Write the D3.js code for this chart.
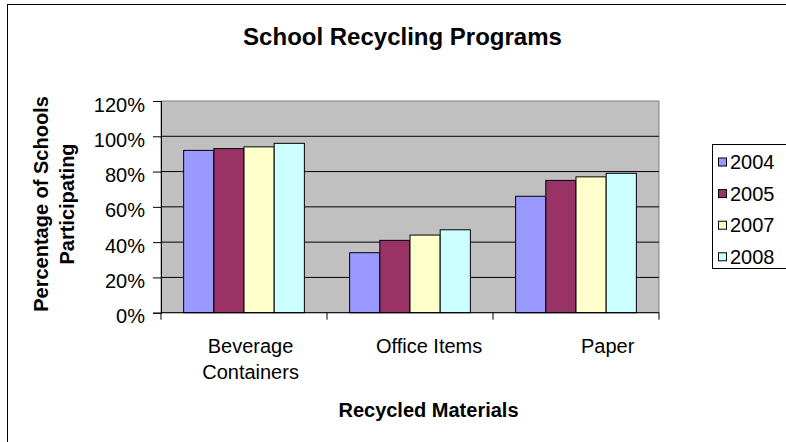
<!DOCTYPE html>
<html>
<head>
<meta charset="utf-8">
<script src="https://cdn.jsdelivr.net/npm/d3@7.9.0/dist/d3.min.js"></script>
<style>
  body { margin: 0; background: #fff; }
  svg { display: block; font-family: "Liberation Sans", Arial, sans-serif; }
</style>
</head>
<body>
<svg id="chart" width="786" height="442"></svg>
<script>
// data
const categories = ['Beverage Containers', 'Office Items', 'Paper'];
const years = ['2004', '2005', '2007', '2008'];
const v2004 = [0.92, 0.34, 0.66];
const v2005 = [0.93, 0.41, 0.75];
const v2007 = [0.94, 0.44, 0.77];
const v2008 = [0.96, 0.47, 0.79];
const yTicks = [0, 0.2, 0.4, 0.6, 0.8, 1.0, 1.2];

const seriesValues = [v2004, v2005, v2007, v2008];
const colors = ['#9999FF', '#993366', '#FFFFCC', '#CCFFFF'];

const svg = d3.select('#chart');
const plot = { left: 161, right: 659, top: 101, bottom: 312.7 };

// chart frame (right and bottom run off the picture)
svg.append('rect')
  .attr('x', 7.5).attr('y', 4.5)
  .attr('width', 820).attr('height', 460)
  .attr('fill', '#fff').attr('stroke', '#000');

let x = d3.scaleBand()
  .domain(categories)
  .range([plot.left, plot.right])
  .paddingInner(0.2727)
  .paddingOuter(0.1364);

let xSub = d3.scaleBand()
  .domain(years)
  .range([0, x.bandwidth()]);

let y = d3.scaleLinear()
  .domain([0, 1.2])
  .range([plot.bottom, plot.top]);

// plot area
svg.append('rect')
  .attr('x', plot.left).attr('y', plot.top)
  .attr('width', plot.right - plot.left).attr('height', plot.bottom - plot.top)
  .attr('fill', '#C0C0C0').attr('stroke', '#808080');

// gridlines
svg.append('g')
  .selectAll('line')
  .data(yTicks.filter((t) => t > 0 && t < 1.2))
  .join('line')
  .attr('x1', plot.left).attr('x2', plot.right)
  .attr('y1', (d) => y(d)).attr('y2', (d) => y(d))
  .attr('stroke', '#000').attr('stroke-width', 1);

// bars
categories.forEach((cat, ci) => {
  let g = svg.append('g').attr('transform', `translate(${x(cat)},0)`);
  years.forEach((yr, si) => {
    let val = seriesValues[si][ci];
    g.append('rect')
      .attr('x', xSub(yr))
      .attr('y', y(val))
      .attr('width', xSub.bandwidth())
      .attr('height', y(0) - y(val))
      .attr('fill', colors[si])
      .attr('stroke', '#000')
      .attr('stroke-width', 1);
  });
});

// y axis
let yAxis = svg.append('g')
  .attr('transform', `translate(${plot.left},0)`)
  .call(d3.axisLeft(y).tickValues(yTicks).tickSize(8).tickPadding(8)
    .tickFormat(d3.format('.0%')));
yAxis.select('.domain').attr('stroke', '#000');
yAxis.selectAll('.tick line').attr('stroke', '#000');
yAxis.selectAll('text')
  .attr('font-size', 20)
  .attr('font-family', '"Liberation Sans", Arial, sans-serif')
  .attr('fill', '#000')
  .attr('dy', '0.5em');

// x axis: line + ticks at category boundaries
let boundaries = categories.map((c) => x(c) - (x.step() - x.bandwidth()) / 2);
boundaries.push(plot.right);
svg.append('line')
  .attr('x1', plot.left).attr('x2', plot.right)
  .attr('y1', plot.bottom).attr('y2', plot.bottom)
  .attr('stroke', '#000');
svg.append('g')
  .selectAll('line')
  .data(boundaries)
  .join('line')
  .attr('x1', (d) => d).attr('x2', (d) => d)
  .attr('y1', plot.bottom).attr('y2', plot.bottom + 7)
  .attr('stroke', '#000');

// category labels (text in the source is a bit wider-spread than the plot)
let labelX = (c) => 1.0756 * (x(c) + x.bandwidth() / 2) - 11.9;
categories.forEach((cat) => {
  let t = svg.append('text')
    .attr('x', labelX(cat))
    .attr('y', 353)
    .attr('text-anchor', 'middle')
    .attr('font-size', 20)
    .attr('fill', '#000')
    .text(cat);
  // wrap labels wider than a category slot
  if (t.node().getComputedTextLength() > x.step()) {
    let words = cat.split(' ');
    t.text(null);
    words.forEach((w, i) => {
      t.append('tspan')
        .attr('x', labelX(cat))
        .attr('dy', i === 0 ? 0 : 26)
        .text(w);
    });
  }
});

// titles
svg.append('text')
  .attr('x', 402.5).attr('y', 45)
  .attr('text-anchor', 'middle')
  .attr('font-size', 24).attr('font-weight', 'bold')
  .text('School Recycling Programs');

svg.append('text')
  .attr('x', 428.5).attr('y', 416.5)
  .attr('text-anchor', 'middle')
  .attr('font-size', 20).attr('font-weight', 'bold')
  .text('Recycled Materials');

let yTitle = svg.append('text')
  .attr('transform', 'translate(0,204) rotate(-90)')
  .attr('text-anchor', 'middle')
  .attr('font-size', 20).attr('font-weight', 'bold');
yTitle.append('tspan').attr('x', 0).attr('y', 47.5).text('Percentage of Schools');
yTitle.append('tspan').attr('x', 0).attr('y', 74).text('Participating');

// legend
let legend = svg.append('g');
legend.append('rect')
  .attr('x', 712.5).attr('y', 144.5)
  .attr('width', 100).attr('height', 124)
  .attr('fill', '#fff').attr('stroke', '#000');
years.forEach((yr, i) => {
  let cy = 162 + i * 31.6;
  legend.append('rect')
    .attr('x', 718.5).attr('y', cy - 4)
    .attr('width', 8).attr('height', 8)
    .attr('fill', colors[i]).attr('stroke', '#000');
  legend.append('text')
    .attr('x', 730).attr('y', cy + 7)
    .attr('font-size', 20)
    .text(yr);
});
</script>
</body>
</html>
